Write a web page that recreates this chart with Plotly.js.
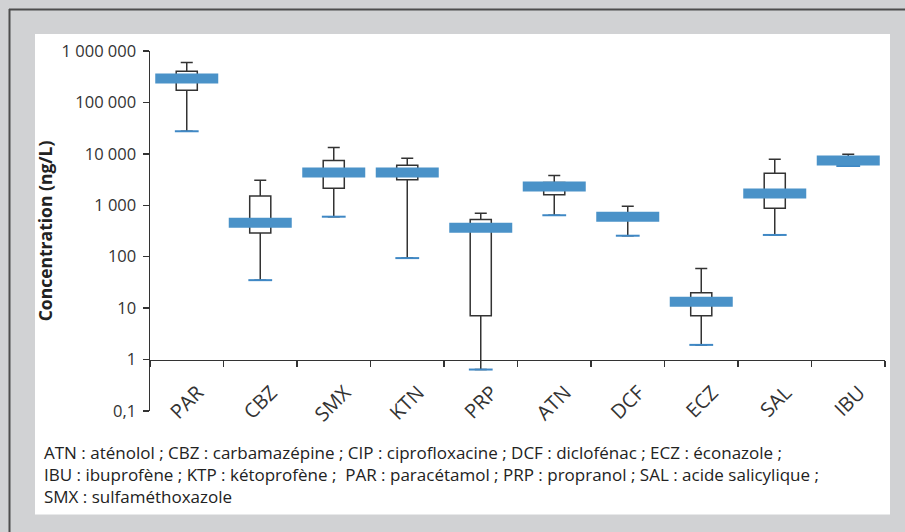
<!DOCTYPE html>
<html>
<head>
<meta charset="utf-8">
<script src="https://cdn.plot.ly/plotly-3.0.1.min.js"></script>
<style>
  html, body { margin: 0; padding: 0; background: #d1d2d4; }
  #chart { width: 905px; height: 532px; }
</style>
</head>
<body>
<div id="chart"></div>
<script>
// ---- Data ----
const categories = ['PAR', 'CBZ', 'SMX', 'KTN', 'PRP', 'ATN', 'DCF', 'ECZ', 'SAL', 'IBU'];
const minVals    = [27500, 35,   600,   94,   0.64, 640,  256, 1.93, 265,  5800];
const q1Vals     = [173000, 290, 2140,  3120, 7.1,  1610, 530, 7.1,  873,  5800];
const medianVals = [293000, 459, 4330,  4330, 367,  2310, 601, 13.3, 1690, 7410];
const q3Vals     = [406000, 1520, 7410, 6000, 532,  2760, 680, 19.9, 4190, 8300];
const maxVals    = [600000, 3060, 13300, 8210, 697, 3780, 955, 59,   7850, 9820];

const yTickVals  = [0.1, 1, 10, 100, 1000, 10000, 100000, 1000000];
const yTickText  = ['0,1', '1', '10', '100', '1 000', '10 000', '100 000', '1 000 000'];

const yTitle = 'Concentration (ng/L)';
const footnote = 'ATN : aténolol ; CBZ : carbamazépine ; CIP : ciprofloxacine ; DCF : diclofénac ; ECZ : éconazole ;<br>' +
                 'IBU : ibuprofène ; KTP : kétoprofène ;  PAR : paracétamol ; PRP : propranol ; SAL : acide salicylique ;<br>' +
                 'SMX : sulfaméthoxazole';

// ---- Styles ----
const FONT = '"Open Sans", Lato, sans-serif';
const INK = '#333333';
const BLUE = '#4a92c8';
const CAPBLUE = '#3f88c5';

const yRange = [-1, 6];
const xAxisPos = (0 - yRange[0]) / (yRange[1] - yRange[0]); // x axis crosses at y = 1

const boxTrace = {
  type: 'box',
  x: categories,
  q1: q1Vals,
  median: medianVals,
  q3: q3Vals,
  lowerfence: minVals,
  upperfence: maxVals,
  fillcolor: 'rgba(255,255,255,0)',
  line: { color: INK, width: 1.5 },
  whiskerwidth: 0.57,
  boxpoints: false,
  hoverinfo: 'skip',
  showlegend: false
};

const medianTrace = {
  type: 'scatter',
  mode: 'markers',
  x: categories,
  y: medianVals,
  marker: { symbol: 'line-ew', size: 45, line: { width: 10, color: BLUE }, color: BLUE },
  hoverinfo: 'skip',
  showlegend: false,
  cliponaxis: false
};

const minCapTrace = {
  type: 'scatter',
  mode: 'markers',
  x: categories,
  y: minVals,
  marker: { symbol: 'line-ew', size: 17, line: { width: 2, color: CAPBLUE }, color: CAPBLUE },
  hoverinfo: 'skip',
  showlegend: false,
  cliponaxis: false
};

// Plot area in pixels: x 150..885, y 51..410.7
const L = 150, R = 885, T = 51, B = 410.7;
const W = R - L, H = B - T;
const px = v => (v - L) / W;
const py = v => (B - v) / H;

const layout = {
  width: 905,
  height: 532,
  margin: { l: L, r: 905 - R, t: T, b: 532 - B },
  paper_bgcolor: '#d1d2d4',
  plot_bgcolor: 'rgba(0,0,0,0)',
  font: { family: FONT, color: INK, size: 15 },
  showlegend: false,
  boxgap: 0.59,
  xaxis: {
    type: 'category',
    range: [-0.5, 9.5],
    anchor: 'free',
    position: xAxisPos,
    showline: true,
    linecolor: INK,
    linewidth: 1.5,
    ticks: 'outside',
    tickson: 'boundaries',
    ticklen: 6,
    tickwidth: 1.5,
    tickcolor: INK,
    tickangle: -45,
    ticklabelshift: 11,
    ticklabelstandoff: 12,
    tickfont: { family: FONT, size: 20, color: INK },
    showgrid: false,
    zeroline: false,
    fixedrange: true
  },
  yaxis: {
    type: 'log',
    range: yRange,
    tickvals: yTickVals,
    ticktext: yTickText,
    showline: true,
    linecolor: INK,
    linewidth: 1.5,
    ticks: 'outside',
    ticklen: 6,
    tickwidth: 1.5,
    tickcolor: INK,
    ticklabelstandoff: 3,
    tickfont: { family: FONT, size: 16.5, color: INK },
    showgrid: false,
    zeroline: false,
    title: { text: '<b>' + yTitle + '</b>', font: { family: FONT, size: 17.5, color: '#222' }, standoff: 4 },
    fixedrange: true
  },
  shapes: [
    // white inner panel
    { type: 'rect', xref: 'paper', yref: 'paper', layer: 'below',
      x0: px(35), x1: px(890), y0: py(514), y1: py(34),
      fillcolor: '#ffffff', line: { width: 0 } },
    // dark outer frame lines (top and left)
    { type: 'line', xref: 'paper', yref: 'paper', layer: 'below',
      x0: px(9), x1: px(910), y0: py(9.5), y1: py(9.5),
      line: { color: '#4d4d4d', width: 2 } },
    { type: 'line', xref: 'paper', yref: 'paper', layer: 'below',
      x0: px(9.5), x1: px(9.5), y0: py(540), y1: py(9),
      line: { color: '#4d4d4d', width: 2 } }
  ],
  annotations: [
    { xref: 'paper', yref: 'paper', x: px(42), y: py(439),
      xanchor: 'left', yanchor: 'top', align: 'left', showarrow: false,
      text: footnote, font: { family: FONT, size: 17, color: '#222' } }
  ]
};

Plotly.newPlot('chart', [boxTrace, minCapTrace, medianTrace], layout, { staticPlot: true, displayModeBar: false });
</script>
</body>
</html>
